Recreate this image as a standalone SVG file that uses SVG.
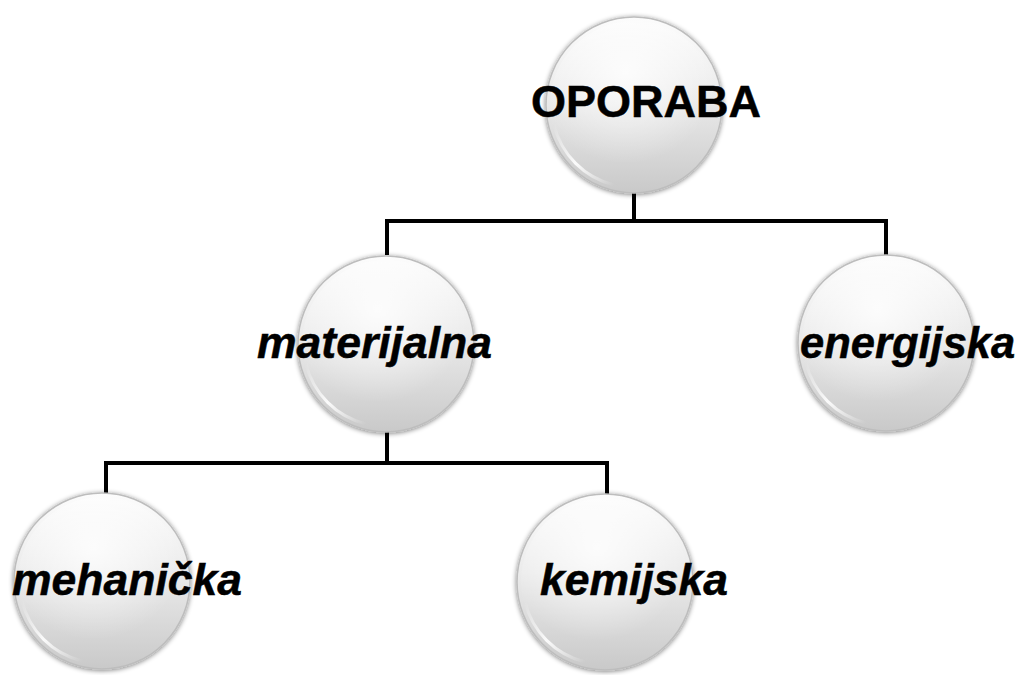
<svg xmlns="http://www.w3.org/2000/svg" width="1019" height="675" viewBox="0 0 1019 675">
  <defs>
    <linearGradient id="ballFill" x1="0" y1="0" x2="0" y2="1">
      <stop offset="0" stop-color="#fcfcfc"/>
      <stop offset="0.45" stop-color="#ebebeb"/>
      <stop offset="1" stop-color="#c9c9c9"/>
    </linearGradient>
    <radialGradient id="ballGlow" cx="0.45" cy="0.3" r="0.55">
      <stop offset="0" stop-color="#ffffff" stop-opacity="0.8"/>
      <stop offset="1" stop-color="#ffffff" stop-opacity="0"/>
    </radialGradient>
    <linearGradient id="rim" x1="0" y1="0" x2="1" y2="1">
      <stop offset="0" stop-color="#ffffff" stop-opacity="0"/>
      <stop offset="0.5" stop-color="#ffffff" stop-opacity="0.9"/>
      <stop offset="1" stop-color="#ffffff" stop-opacity="0"/>
    </linearGradient>
    <filter id="soft" x="-20%" y="-20%" width="140%" height="140%">
      <feGaussianBlur in="SourceAlpha" stdDeviation="2.5"/>
      <feOffset dx="0" dy="1" result="b"/>
      <feComponentTransfer><feFuncA type="linear" slope="0.5"/></feComponentTransfer>
      <feMerge><feMergeNode/><feMergeNode in="SourceGraphic"/></feMerge>
    </filter>
    <g id="ball">
      <circle r="88" fill="url(#ballFill)" stroke="#bdbdbd" stroke-width="1.5" filter="url(#soft)"/>
      <circle r="84" fill="url(#ballGlow)"/>
      <path d="M-80,20 A82,82 0 0 0 -20,80" fill="none" stroke="url(#rim)" stroke-width="3"/>
    </g>
  </defs>
  <style>
    .lbl { font-family: "Liberation Sans", Arial, sans-serif; font-weight: bold; fill: #000; stroke: #000; stroke-width: 0.5; }
    .it { font-style: italic; font-size: 44.5px; }
    .root { font-size: 45px; }
    .conn { fill: none; stroke: #000; stroke-width: 4; stroke-linejoin: miter; stroke-linecap: butt; }
  </style>
  <rect width="1019" height="675" fill="#ffffff"/>
  <g id="connectors">
    <path class="conn" d="M634,193 V221 M387,221 H886 M387,219 V255 M886,219 V255"/>
    <path class="conn" d="M387,431 V463 M106,463 H607 M106,461 V494 M607,461 V494"/>
  </g>
  <g id="node-oporaba">
    <use href="#ball" x="634" y="105"/>
    <text class="lbl root" x="531" y="117">OPORABA</text>
  </g>
  <g id="node-materijalna">
    <use href="#ball" x="386" y="344"/>
    <text class="lbl it" x="257" y="358">materijalna</text>
  </g>
  <g id="node-energijska">
    <use href="#ball" x="886" y="343"/>
    <text class="lbl it" x="800" y="358" style="font-size:43.5px">energijska</text>
  </g>
  <g id="node-mehanicka">
    <use href="#ball" x="102" y="581"/>
    <text class="lbl it" x="12" y="595">mehanička</text>
  </g>
  <g id="node-kemijska">
    <use href="#ball" x="605" y="582"/>
    <text class="lbl it" x="540" y="595">kemijska</text>
  </g>
</svg>
